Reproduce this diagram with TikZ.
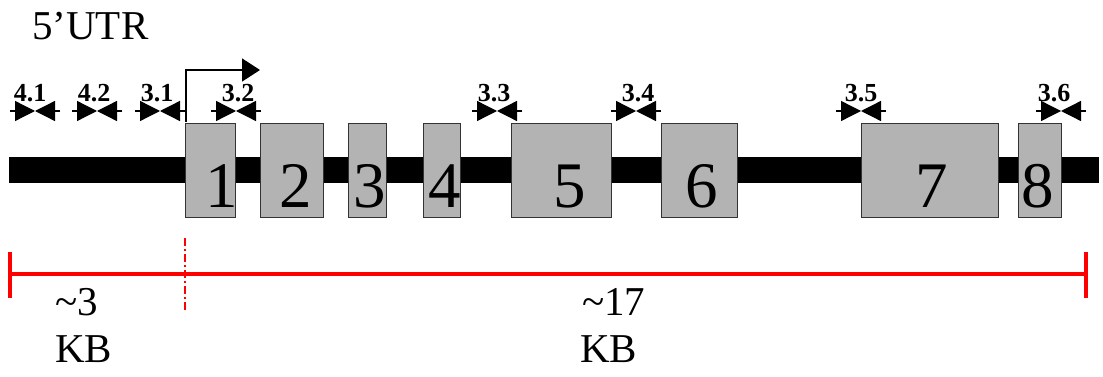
\documentclass[tikz,border=0pt]{standalone}
\usepackage{fontspec}
\setmainfont{Liberation Serif}
\usetikzlibrary{arrows.meta}
\definecolor{exongray}{RGB}{179,179,179}
\definecolor{linered}{RGB}{255,0,0}
\tikzset{
  exon/.style={draw=black!80, line width=0.8pt, fill=exongray, inner sep=0pt, outer sep=0pt, anchor=north west},
  digit/.style={font=\fontsize{65}{65}\selectfont, inner sep=0pt, anchor=base},
  primer/.style={line width=1.3pt, -{Triangle[length=20pt,width=20pt]}},
  plabel/.style={font=\bfseries\fontsize{26}{26}\selectfont, inner sep=0pt, anchor=base},
  bigtext/.style={font=\fontsize{41}{41}\selectfont, inner sep=0pt, anchor=base west},
  scaleline/.style={draw=linered, line width=3.6pt},
  tss/.style={line width=1.5pt, -{Triangle[length=18pt,width=23pt]}},
}
\begin{document}
\begin{tikzpicture}[x=1pt,y=-1pt]
\useasboundingbox (0,0) rectangle (1103,377);
% backbone
\fill[black] (9,157) rectangle (1099,183);
\coordinate (barL) at (9,170);
% exons
\foreach \i/\xa/\xb/\dx in {1/185/235/222, 2/260/323/296, 3/348/386/370, 4/423/460/445, 5/511/611/570, 6/661/737/702, 7/861/998/932, 8/1018/1061/1038}{
  \node[exon, minimum width=\xb-\xa, minimum height=94] (e\i) at (\xa,123) {};
  \node[digit] (d\i) at (\dx,207) {\i};
}
% TSS arrow
\coordinate (tssA) at (186,122);
\coordinate (tssB) at (260,70);
\draw[tss] (tssA) |- (tssB);
% primers
\foreach \nm/\n/\x/\lx in {a/4.1/35/30, b/4.2/97/94, c/3.1/160/157, d/3.2/236/238, e/3.3/497/494, f/3.4/636/638, g/3.5/861/861, h/3.6/1061/1054}{
  \coordinate (pc\nm) at (\x,111);
  \coordinate (pl\nm) at (\x-25,111);
  \coordinate (pr\nm) at (\x+25,111);
  \draw[primer] (pl\nm) -- (pc\nm);
  \draw[primer] (pr\nm) -- (pc\nm);
  \node[plabel] (lab\nm) at (\lx,102) {\n};
}
% 5'UTR
\node[bigtext] (utr) at (32,40) {5’UTR};
% scale line
\coordinate (sL) at (10,274);
\coordinate (sR) at (1086,274);
\draw[scaleline] (sL) -- (sR);
\coordinate (tL1) at (10,252); \coordinate (tL2) at (10,298);
\coordinate (tR1) at (1086,252); \coordinate (tR2) at (1086,298);
\draw[scaleline] (tL1) -- (tL2);
\draw[scaleline] (tR1) -- (tR2);
\coordinate (dv1) at (185,238); \coordinate (dv2) at (185,310);
\draw[draw=linered, line width=1.4pt, dash pattern=on 8pt off 3pt on 2pt off 3pt] (dv1) -- (dv2);
\node[bigtext] (k3a) at (55,315) {\textasciitilde3};
\node[bigtext] (k3b) at (55,362) {KB};
\node[bigtext] (k17a) at (582,315) {\textasciitilde17};
\node[bigtext] (k17b) at (580,362) {KB};
\end{tikzpicture}
\end{document}
